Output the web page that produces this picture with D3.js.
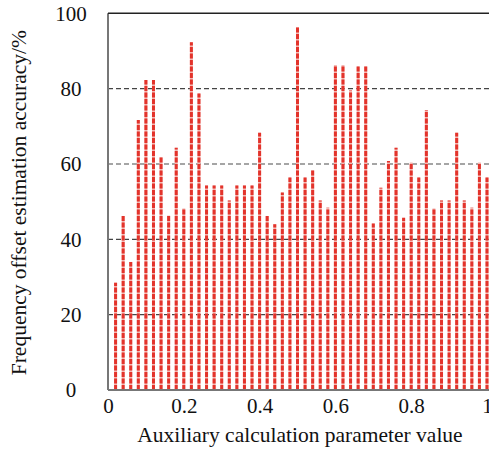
<!DOCTYPE html>
<html>
<head>
<meta charset="utf-8">
<script src="https://cdn.jsdelivr.net/npm/d3@7"></script>
<style>
body { margin: 0; background: #fff; }
text { font-family: "Liberation Serif", "Times New Roman", serif; fill: #111; }
</style>
</head>
<body>
<div id="chart"></div>
<script>
// parameter values (x) and accuracy (%)
var paramValues = [0.02,0.04,0.06,0.08,0.10,0.12,0.14,0.16,0.18,0.20,
                   0.22,0.24,0.26,0.28,0.30,0.32,0.34,0.36,0.38,0.40,
                   0.42,0.44,0.46,0.48,0.50,0.52,0.54,0.56,0.58,0.60,
                   0.62,0.64,0.66,0.68,0.70,0.72,0.74,0.76,0.78,0.80,
                   0.82,0.84,0.86,0.88,0.90,0.92,0.94,0.96,0.98,1.00];
var accuracy = [28.5,46.2,34,71.7,82.3,82.3,61.8,46.3,64.3,48.2,
                92.3,78.7,54.3,54.3,54.3,50.3,54.3,54.3,54.3,68.3,
                46.2,44,52.4,56.4,96.3,56.4,58.3,50.3,48.4,86.3,
                86.3,79.5,85.9,85.9,44.2,53.7,60.8,64.3,45.7,60.4,
                56.4,74.3,48.2,50.3,50.3,68.3,50.3,48.4,60.4,56.4];
var xTicks = [0, 0.2, 0.4, 0.6, 0.8, 1];
var yTicks = [0, 20, 40, 60, 80, 100];
var gridValues = [20, 40, 60, 80];

var width = 489, height = 450;
var mLeft = 108, mRight = 487, mTop = 13.3, mBottom = 390;

var svg = d3.select("#chart")
            .append("svg")
            .attr("width", width)
            .attr("height", height);

var x = d3.scaleLinear().domain([0, 1]).range([mLeft, mRight]);
var y = d3.scaleLinear().domain([0, 100]).range([mBottom, mTop]);

// dashed grid lines
svg.selectAll("line.grid")
    .data(gridValues)
  .enter()
    .append("line")
    .attr("class", "grid")
    .attr("x1", mLeft)
    .attr("x2", width)
    .attr("y1", function(d) { return y(d); })
    .attr("y2", function(d) { return y(d); })
    .style("stroke", function(d) { return d == 60 ? "#888" : "#444"; })
    .style("stroke-width", 1.3)
    .style("stroke-dasharray", "5,3");

// stems: pale base + red dashes on top
svg.selectAll("line.stemBase")
    .data(paramValues)
  .enter()
    .append("line")
    .attr("class", "stemBase")
    .attr("x1", function(d) { return x(d); })
    .attr("x2", function(d) { return x(d); })
    .attr("y1", y(0))
    .attr("y2", function(d, i) { return y(accuracy[i]); })
    .style("stroke", "#f3b8b3")
    .style("stroke-width", 3);

svg.selectAll("line.stem")
    .data(paramValues)
  .enter()
    .append("line")
    .attr("class", "stem")
    .attr("x1", function(d) { return x(d); })
    .attr("x2", function(d) { return x(d); })
    .attr("y1", y(0))
    .attr("y2", function(d, i) { return y(accuracy[i]); })
    .style("stroke", "#e3332b")
    .style("stroke-width", 3)
    .style("stroke-dasharray", "5,1.5");

// frame: left, bottom, top
svg.append("line").attr("x1", mLeft).attr("x2", mLeft).attr("y1", mTop).attr("y2", mBottom)
    .style("stroke", "#777").style("stroke-width", 2);
svg.append("line").attr("x1", mLeft).attr("x2", width).attr("y1", mBottom).attr("y2", mBottom)
    .style("stroke", "#777").style("stroke-width", 2);
svg.append("line").attr("x1", mLeft).attr("x2", width).attr("y1", mTop).attr("y2", mTop)
    .style("stroke", "#222").style("stroke-width", 1.5);

// axes labels
var xAxis = d3.axisBottom(x).tickValues(xTicks).tickSize(0).tickPadding(8)
    .tickFormat(function(d) { return d3.format("")(d); });
svg.append("g")
    .attr("transform", "translate(0," + mBottom + ")")
    .call(xAxis)
    .call(function(g) { g.select(".domain").remove(); })
    .selectAll("text")
    .style("font-family", "'Liberation Serif', 'Times New Roman', serif")
    .style("font-size", "21px")
    .style("fill", "#111");

var yAxis = d3.axisLeft(y).tickValues(yTicks).tickSize(0).tickPadding(37);
svg.append("g")
    .attr("transform", "translate(" + mLeft + ",0)")
    .call(yAxis)
    .call(function(g) { g.select(".domain").remove(); })
    .selectAll("text")
    .attr("text-anchor", "middle")
    .style("font-family", "'Liberation Serif', 'Times New Roman', serif")
    .style("font-size", "21px")
    .style("fill", "#111");

svg.append("text")
    .attr("x", 300)
    .attr("y", 442)
    .attr("text-anchor", "middle")
    .style("font-size", "21.5px")
    .text("Auxiliary calculation parameter value");

svg.append("text")
    .attr("transform", "translate(26," + ((mTop + mBottom) / 2 + 1) + ") rotate(-90)")
    .attr("text-anchor", "middle")
    .style("font-size", "21.5px")
    .text("Frequency offset estimation accuracy/%");
</script>
</body>
</html>
